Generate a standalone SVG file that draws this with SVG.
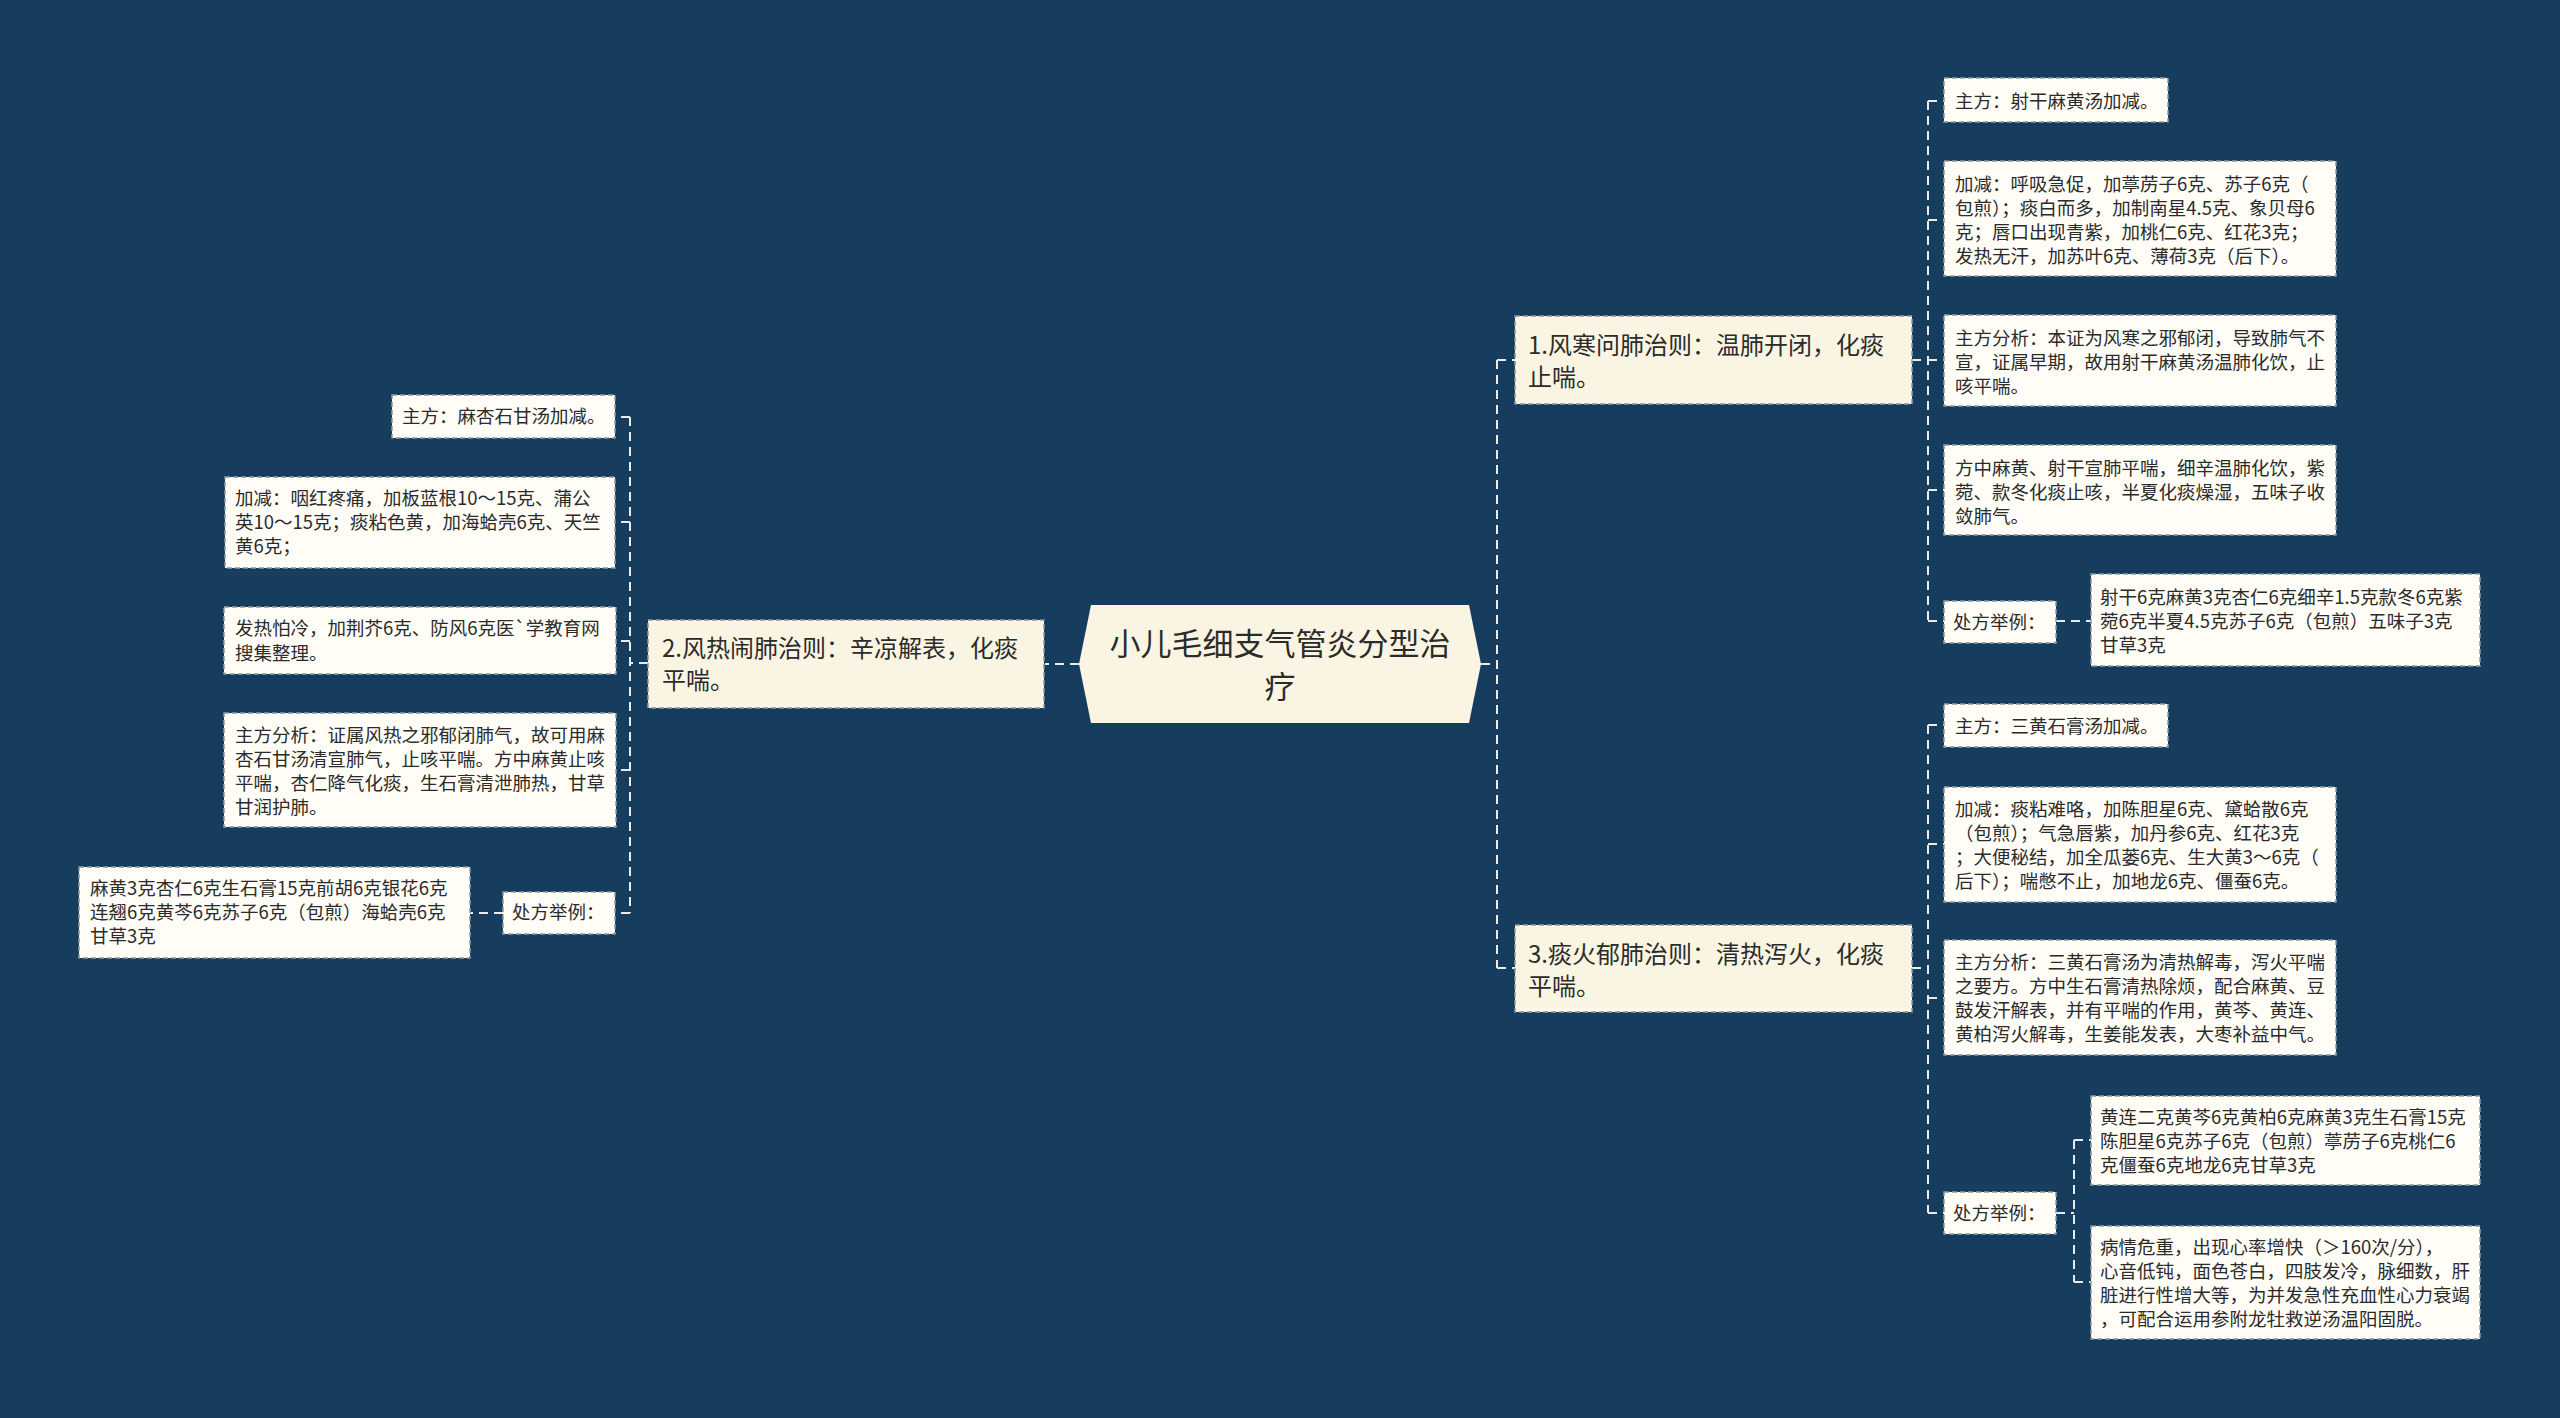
<svg xmlns="http://www.w3.org/2000/svg" width="2560" height="1418" viewBox="0 0 2560 1418">
<style>
.bg{fill:#173d5e}
.leaf rect{fill:#fffdf6;stroke:#8f98a0;stroke-width:1.5;stroke-dasharray:5,3}
.l1 rect{fill:#faf4e2;stroke:#8f98a0;stroke-width:1.5;stroke-dasharray:5,3}
.c polygon{fill:#faf4e2}
text{font-family:"Noto Sans CJK SC","Noto Sans",sans-serif;fill:#2b2b2b}
.leaf text{font-size:18.5px}
.l1 text{font-size:24px}
.c text{font-size:31px;text-anchor:middle}
#connectors path{fill:none;stroke:#e9ecef;stroke-width:2;stroke-dasharray:9,6}
</style>
<rect class="bg" x="0" y="0" width="2560" height="1418"/>
<g id="connectors">
<path d="M1079,664 H1045"/>
<path d="M648,663 H630 M630,417 V913 M630,417 H615 M630,522 H615 M630,641 H616 M630,770 H616 M630,913 H615 M503,913 H470"/>
<path d="M1481,664 H1497 M1497,360 V968 M1497,360 H1515 M1497,968 H1515"/>
<path d="M1912,360 H1928 M1928,101 V621 M1928,101 H1944 M1928,220 H1944 M1928,360 H1944 M1928,490 H1944 M1928,621 H1944 M2056,621 H2091"/>
<path d="M1912,968 H1928 M1928,725 V1213 M1928,725 H1944 M1928,844 H1944 M1928,998 H1944 M1928,1213 H1944 M2056,1213 H2074 M2074,1140 V1282 M2074,1140 H2091 M2074,1282 H2091"/>
</g>
<g id="center" class="c">
<polygon points="1079,664 1091,605 1469,605 1481,664 1469,723 1091,723"/>
<text x="1280" y="655">小儿毛细支气管炎分型治</text>
<text x="1280" y="698">疗</text>
</g>
<g id="n2" class="l1">
<rect x="648" y="620" width="396" height="88"/>
<text x="662" y="657">2.风热闹肺治则：辛凉解表，化痰</text>
<text x="662" y="689">平喘。</text>
</g>
<g id="n1" class="l1">
<rect x="1515" y="316" width="397" height="88"/>
<text x="1528" y="354">1.风寒问肺治则：温肺开闭，化痰</text>
<text x="1528" y="386">止喘。</text>
</g>
<g id="n3" class="l1">
<rect x="1515" y="925" width="397" height="87"/>
<text x="1528" y="963">3.痰火郁肺治则：清热泻火，化痰</text>
<text x="1528" y="995">平喘。</text>
</g>
<g id="l1" class="leaf">
<rect x="392" y="395" width="223" height="43"/>
<text x="402" y="423">主方：麻杏石甘汤加减。</text>
</g>
<g id="l2" class="leaf">
<rect x="225" y="477" width="390" height="91"/>
<text x="235" y="505">加减：咽红疼痛，加板蓝根10～15克、蒲公</text>
<text x="235" y="529">英10～15克；痰粘色黄，加海蛤壳6克、天竺</text>
<text x="235" y="553">黄6克；</text>
</g>
<g id="l3" class="leaf">
<rect x="224" y="607" width="392" height="67"/>
<text x="235" y="635">发热怕冷，加荆芥6克、防风6克医`学教育网</text>
<text x="235" y="660">搜集整理。</text>
</g>
<g id="l4" class="leaf">
<rect x="224" y="713" width="392" height="114"/>
<text x="235" y="742">主方分析：证属风热之邪郁闭肺气，故可用麻</text>
<text x="235" y="766">杏石甘汤清宣肺气，止咳平喘。方中麻黄止咳</text>
<text x="235" y="790">平喘，杏仁降气化痰，生石膏清泄肺热，甘草</text>
<text x="235" y="814">甘润护肺。</text>
</g>
<g id="l5" class="leaf">
<rect x="503" y="892" width="112" height="42"/>
<text x="512" y="919">处方举例：</text>
</g>
<g id="l6" class="leaf">
<rect x="79" y="867" width="391" height="91"/>
<text x="90" y="895">麻黄3克杏仁6克生石膏15克前胡6克银花6克</text>
<text x="90" y="919">连翘6克黄芩6克苏子6克（包煎）海蛤壳6克</text>
<text x="90" y="943">甘草3克</text>
</g>
<g id="r1" class="leaf">
<rect x="1944" y="78" width="224" height="44"/>
<text x="1955" y="108">主方：射干麻黄汤加减。</text>
</g>
<g id="r2" class="leaf">
<rect x="1944" y="161" width="392" height="115"/>
<text x="1955" y="191">加减：呼吸急促，加葶苈子6克、苏子6克（</text>
<text x="1955" y="215">包煎）；痰白而多，加制南星4.5克、象贝母6</text>
<text x="1955" y="239">克；唇口出现青紫，加桃仁6克、红花3克；</text>
<text x="1955" y="263">发热无汗，加苏叶6克、薄荷3克（后下）。</text>
</g>
<g id="r3" class="leaf">
<rect x="1944" y="315" width="392" height="91"/>
<text x="1955" y="345">主方分析：本证为风寒之邪郁闭，导致肺气不</text>
<text x="1955" y="369">宣，证属早期，故用射干麻黄汤温肺化饮，止</text>
<text x="1955" y="393">咳平喘。</text>
</g>
<g id="r4" class="leaf">
<rect x="1944" y="445" width="392" height="90"/>
<text x="1955" y="475">方中麻黄、射干宣肺平喘，细辛温肺化饮，紫</text>
<text x="1955" y="499">菀、款冬化痰止咳，半夏化痰燥湿，五味子收</text>
<text x="1955" y="523">敛肺气。</text>
</g>
<g id="r5" class="leaf">
<rect x="1944" y="601" width="112" height="42"/>
<text x="1953" y="629">处方举例：</text>
</g>
<g id="r6" class="leaf">
<rect x="2091" y="574" width="389" height="92"/>
<text x="2100" y="604">射干6克麻黄3克杏仁6克细辛1.5克款冬6克紫</text>
<text x="2100" y="628">菀6克半夏4.5克苏子6克（包煎）五味子3克</text>
<text x="2100" y="652">甘草3克</text>
</g>
<g id="r7" class="leaf">
<rect x="1944" y="704" width="224" height="43"/>
<text x="1955" y="733">主方：三黄石膏汤加减。</text>
</g>
<g id="r8" class="leaf">
<rect x="1944" y="787" width="392" height="115"/>
<text x="1955" y="816">加减：痰粘难咯，加陈胆星6克、黛蛤散6克</text>
<text x="1955" y="840">（包煎）；气急唇紫，加丹参6克、红花3克</text>
<text x="1955" y="864">；大便秘结，加全瓜蒌6克、生大黄3～6克（</text>
<text x="1955" y="888">后下）；喘憋不止，加地龙6克、僵蚕6克。</text>
</g>
<g id="r9" class="leaf">
<rect x="1944" y="940" width="392" height="115"/>
<text x="1955" y="969">主方分析：三黄石膏汤为清热解毒，泻火平喘</text>
<text x="1955" y="993">之要方。方中生石膏清热除烦，配合麻黄、豆</text>
<text x="1955" y="1017">鼓发汗解表，并有平喘的作用，黄芩、黄连、</text>
<text x="1955" y="1041">黄柏泻火解毒，生姜能发表，大枣补益中气。</text>
</g>
<g id="r10" class="leaf">
<rect x="1944" y="1192" width="112" height="42"/>
<text x="1953" y="1220">处方举例：</text>
</g>
<g id="r11" class="leaf">
<rect x="2091" y="1096" width="389" height="89"/>
<text x="2100" y="1124">黄连二克黄芩6克黄柏6克麻黄3克生石膏15克</text>
<text x="2100" y="1148">陈胆星6克苏子6克（包煎）葶苈子6克桃仁6</text>
<text x="2100" y="1172">克僵蚕6克地龙6克甘草3克</text>
</g>
<g id="r12" class="leaf">
<rect x="2091" y="1226" width="389" height="113"/>
<text x="2100" y="1254">病情危重，出现心率增快（＞160次/分），</text>
<text x="2100" y="1278">心音低钝，面色苍白，四肢发冷，脉细数，肝</text>
<text x="2100" y="1302">脏进行性增大等，为并发急性充血性心力衰竭</text>
<text x="2100" y="1326">，可配合运用参附龙牡救逆汤温阳固脱。</text>
</g>
</svg>
